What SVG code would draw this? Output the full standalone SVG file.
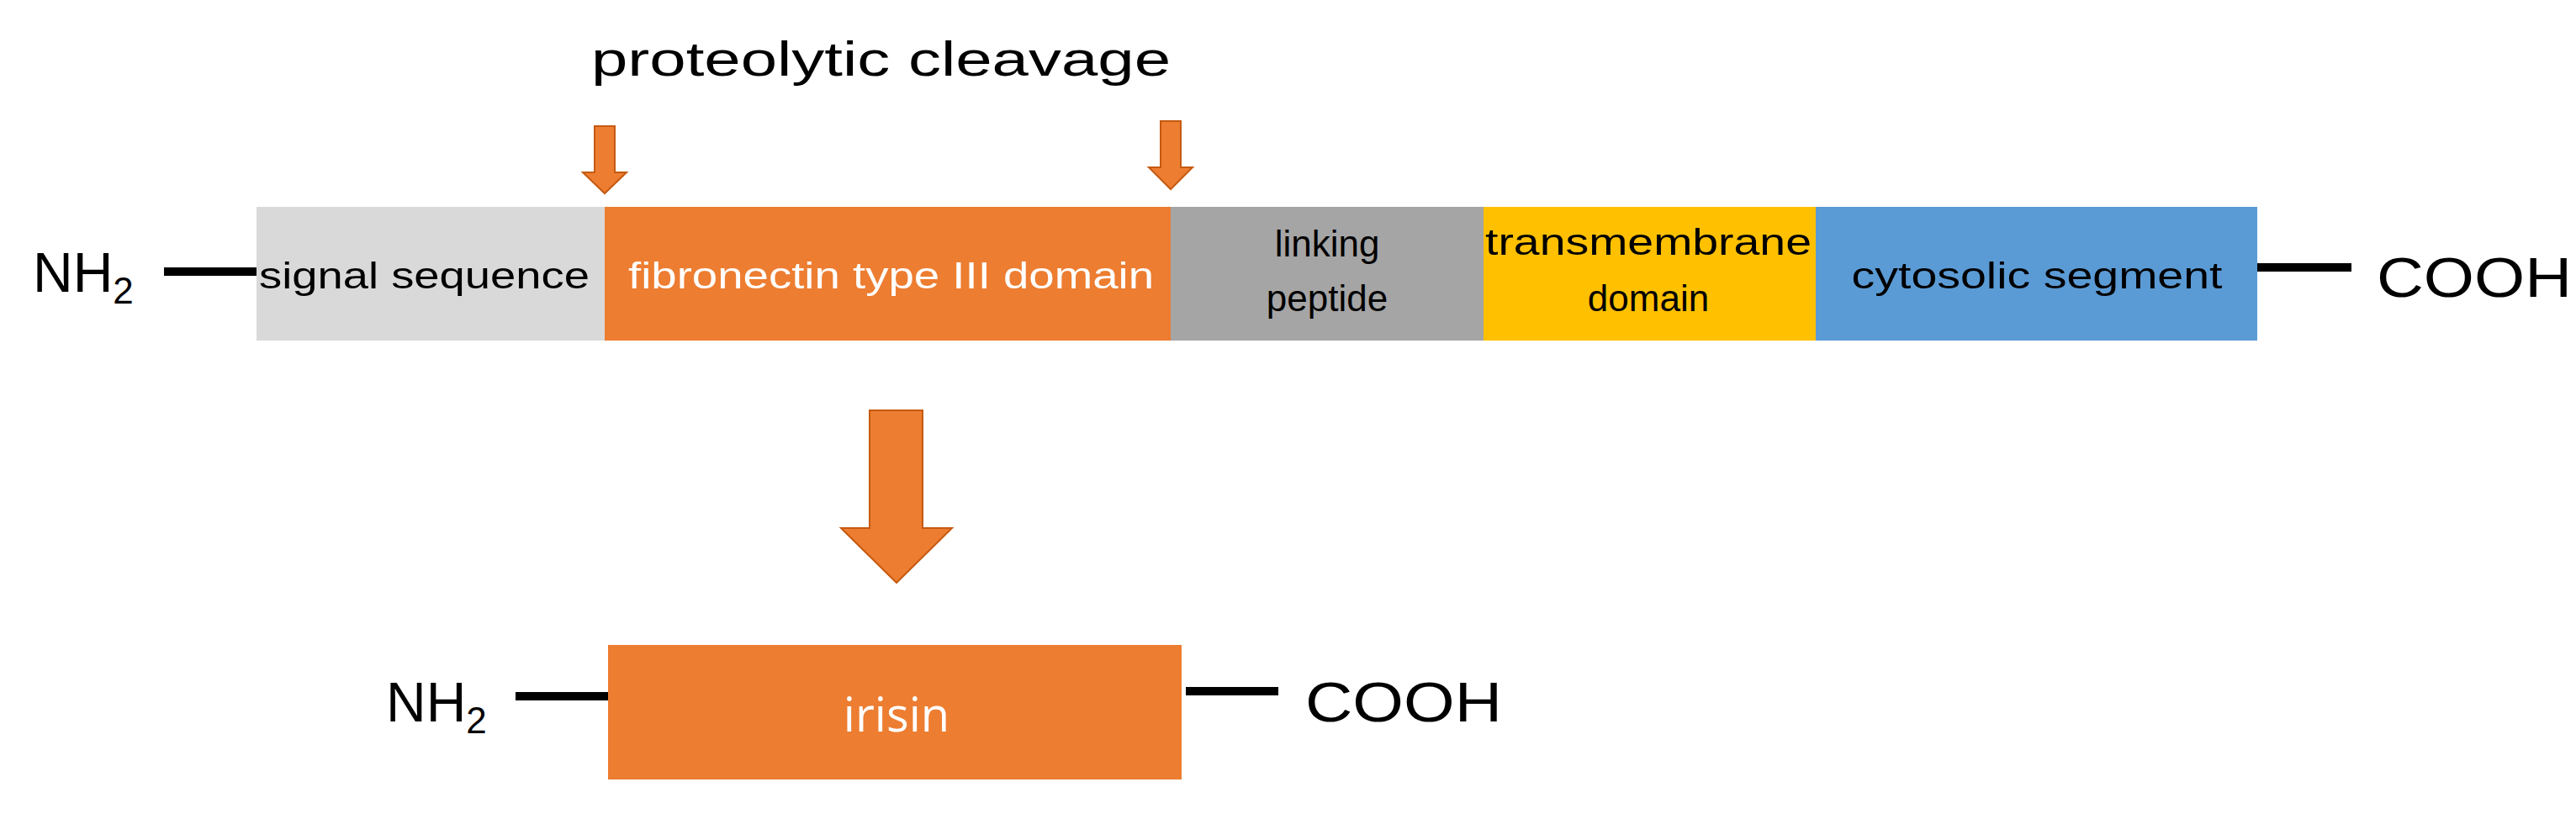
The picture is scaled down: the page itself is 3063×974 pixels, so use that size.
<svg xmlns="http://www.w3.org/2000/svg" width="3063" height="974" viewBox="0 0 3063 974">
<style>
.t{font-family:"Liberation Sans",Arial,sans-serif;fill:#000}
.w{font-family:"Open Sans","Liberation Sans",sans-serif;fill:#fff}
.ln{stroke:#000;stroke-width:10}
.arr{fill:#ed7d31;stroke:#c55a11;stroke-width:2}
</style>
<rect width="3063" height="974" fill="#fff"/>
<g id="title"><text class="t" x="703" y="90" font-size="58" textLength="689" lengthAdjust="spacingAndGlyphs">proteolytic cleavage</text></g>
<g id="connectors">
<path class="arr" d="M707 150H731V205H745L719 230L693 205H707Z"/>
<path class="arr" d="M1380 144H1404V199H1418L1392 225L1366 199H1380Z"/>
<path class="arr" d="M1034 488H1097V628H1132L1066 693L1000 628H1034Z"/>
<line class="ln" x1="195" y1="323" x2="305" y2="323"/>
<line class="ln" x1="2684" y1="318" x2="2796" y2="318"/>
<line class="ln" x1="613" y1="828" x2="723" y2="828"/>
<line class="ln" x1="1410" y1="822" x2="1520" y2="822"/>
</g>
<g id="nh2-top"><text class="t" x="39" y="347" font-size="66">NH<tspan font-size="44" dy="14">2</tspan></text></g>
<g id="signal"><rect x="305" y="246" width="414" height="159" fill="#d9d9d9"/><text class="t" x="308" y="343" font-size="44" textLength="393" lengthAdjust="spacingAndGlyphs">signal sequence</text></g>
<g id="fibronectin"><rect x="719" y="246" width="673" height="159" fill="#ed7d31"/><text class="t" x="747" y="343" font-size="44" fill="#fff" style="fill:#fff" textLength="625" lengthAdjust="spacingAndGlyphs">fibronectin type III  domain</text></g>
<g id="linking"><rect x="1392" y="246" width="372" height="159" fill="#a5a5a5"/><text class="t" x="1578" y="305" font-size="44" text-anchor="middle">linking</text><text class="t" x="1578" y="370" font-size="44" text-anchor="middle">peptide</text></g>
<g id="transmembrane"><rect x="1764" y="246" width="395" height="159" fill="#ffc000"/><text class="t" x="1960" y="303" font-size="44" text-anchor="middle" textLength="388" lengthAdjust="spacingAndGlyphs">transmembrane</text><text class="t" x="1960" y="370" font-size="44" text-anchor="middle">domain</text></g>
<g id="cytosolic"><rect x="2159" y="246" width="525" height="159" fill="#5b9bd5"/><text class="t" x="2422" y="343" font-size="44" text-anchor="middle" textLength="441" lengthAdjust="spacingAndGlyphs">cytosolic segment</text></g>
<g id="cooh-top"><text class="t" x="2826" y="353" font-size="66" textLength="232" lengthAdjust="spacingAndGlyphs">COOH</text></g>
<g id="nh2-bottom"><text class="t" x="459" y="858" font-size="66">NH<tspan font-size="44" dy="14">2</tspan></text></g>
<g id="irisin"><rect x="723" y="767" width="682" height="160" fill="#ed7d31"/><text class="w" x="1066" y="870" font-size="56" text-anchor="middle">irisin</text></g>
<g id="cooh-bottom"><text class="t" x="1552" y="858" font-size="66" textLength="234" lengthAdjust="spacingAndGlyphs">COOH</text></g>
</svg>
